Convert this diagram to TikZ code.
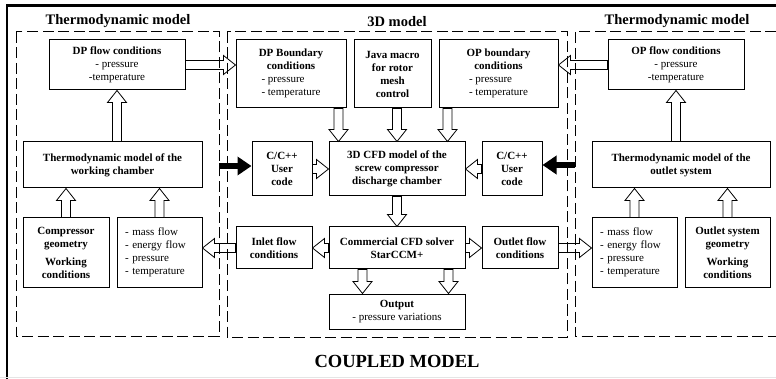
\documentclass[tikz,border=0pt]{standalone}
\usepackage{fontspec}
\setmainfont{Liberation Serif}
\usetikzlibrary{calc,arrows.meta}
\newcommand*{\boxfont}{\fontsize{11}{13}\selectfont}
\tikzset{
  box/.style 2 args={draw, line width=1pt, align=center, inner sep=2pt,
    minimum width=#1, minimum height=#2, font=\boxfont\bfseries},
  listbox/.style={draw, line width=1pt, align=left, inner xsep=8pt,
    text width=69pt, minimum height=69pt, font=\boxfont},
  flow/.style={draw, fill=white, line width=0.8pt},
  push/.style={line width=6pt, -{Triangle[length=14pt,width=18pt]}},
  modelframe/.style={line width=1pt, dash pattern=on 11pt off 4.5pt},
  heading/.style={font=\fontsize{14.5}{16}\selectfont\bfseries}
}
\newcommand*{\flowarrow}[2]{%
  \coordinate (fa1) at (#1);
  \coordinate (fa2) at (#2);
  \coordinate (fah) at ($(fa2)!12pt!(fa1)$);
  \draw[flow] ($(fa1)!4.5pt!90:(fa2)$) -- ($(fah)!4.5pt!90:(fa2)$)
    -- ($(fah)!9.5pt!90:(fa2)$) -- (fa2) -- ($(fah)!9.5pt!-90:(fa2)$)
    -- ($(fah)!4.5pt!-90:(fa2)$) -- ($(fa1)!4.5pt!-90:(fa2)$) -- cycle}

\begin{document}
\begin{tikzpicture}[x=1pt,y=-1pt]
\useasboundingbox (0,0) rectangle (776,379);
% outer frame
\draw[line width=2.5pt] (7,379) -- (7,5.5) -- (776,5.5);
\draw[black!10, line width=1pt] (0,377.5) -- (776,377.5);
% titles
\node[heading] (tdleft) at (118,21) {Thermodynamic model};
\node[heading] (tdmid) at (397,22) {3D model};
\node[heading] (tdright) at (677,21) {Thermodynamic model};
\node[font=\fontsize{18.5}{20}\selectfont\bfseries] (coupled) at (397,361) {COUPLED MODEL};
% thermodynamic model, discharge side
\node[box={136pt}{50pt}] (dpflow) at (117,65)
  {DP flow conditions\\\mdseries - pressure\\\mdseries -temperature};
\node[box={179pt}{46pt}] (tmwc) at (112.5,165)
  {Thermodynamic model of the\\working chamber};
\node[box={86pt}{69pt}] (compgeo) at (66,252.5)
  {Compressor\\geometry\\[5pt]Working\\conditions};
\node[listbox] (massl) at (159.5,252.5)
  {- mass flow\\- energy flow\\- pressure\\- temperature};
% 3D model
\node[box={110pt}{68pt}] (dpbc) at (291,74)
  {DP Boundary\\conditions\\\mdseries\begin{tabular}[t]{@{}l@{}}- pressure\\- temperature\end{tabular}};
\node[box={77pt}{68pt}] (java) at (392.5,74)
  {Java macro\\for rotor\\mesh\\control};
\node[box={119pt}{68pt}] (opbc) at (498.5,74)
  {OP boundary\\conditions\\\mdseries\begin{tabular}[t]{@{}l@{}}- pressure\\- temperature\end{tabular}};
\node[box={60pt}{54pt}] (ccl) at (282,169) {C/C++\\User\\code};
\node[box={136pt}{54pt}] (cfd3d) at (397,169)
  {3D CFD model of the\\screw compressor\\discharge chamber};
\node[box={60pt}{54pt}] (ccr) at (512,169) {C/C++\\User\\code};
\node[box={76pt}{42pt}] (inlet) at (274,248) {Inlet flow\\conditions};
\node[box={136pt}{42pt}] (solver) at (397,248)
  {Commercial CFD solver\\StarCCM+};
\node[box={76pt}{42pt}] (outlet) at (520,248) {Outlet flow\\conditions};
\node[box={136pt}{35pt}] (output) at (397,311.5)
  {Output\\\mdseries - pressure variations};
% thermodynamic model, outlet side
\node[box={136pt}{50pt}] (opflow) at (676,65)
  {OP flow conditions\\\mdseries - pressure\\\mdseries -temperature};
\node[box={178pt}{46pt}] (tmout) at (681,165)
  {Thermodynamic model of the\\outlet system};
\node[listbox] (massr) at (634.5,252.5)
  {- mass flow\\- energy flow\\- pressure\\- temperature};
\node[box={85pt}{69pt}] (outgeo) at (727.5,252.5)
  {Outlet system\\geometry\\[5pt]Working\\conditions};
% data flow
\flowarrow{dpflow.east}{dpflow.east -| dpbc.west};
\flowarrow{dpflow.south |- tmwc.north}{dpflow.south};
\flowarrow{compgeo.north}{compgeo.north |- tmwc.south};
\flowarrow{massl.north}{massl.north |- tmwc.south};
\flowarrow{inlet.west}{inlet.west -| massl.east};
\flowarrow{[xshift=-8pt]dpbc.south east}{[xshift=-8pt]dpbc.south east |- cfd3d.north};
\flowarrow{cfd3d.north |- java.south}{cfd3d.north};
\flowarrow{[xshift=9pt]opbc.south west}{[xshift=9pt]opbc.south west |- cfd3d.north};
\flowarrow{ccl.east}{cfd3d.west};
\flowarrow{ccr.west}{cfd3d.east};
\flowarrow{cfd3d.south}{solver.north};
\flowarrow{solver.west}{inlet.east};
\flowarrow{solver.east}{outlet.west};
\flowarrow{[xshift=34pt]solver.south west}{[xshift=34pt]solver.south west |- output.north};
\flowarrow{[xshift=-17pt]solver.south east}{[xshift=-17pt]solver.south east |- output.north};
\flowarrow{opflow.west}{opflow.west -| opbc.east};
\flowarrow{opflow.south |- tmout.north}{opflow.south};
\flowarrow{massr.north}{massr.north |- tmout.south};
\flowarrow{outgeo.north}{outgeo.north |- tmout.south};
\flowarrow{outlet.east}{outlet.east -| massr.west};
% model frames
\draw[modelframe] (16,32) rectangle (219,336);
\draw[modelframe] (227,32) rectangle (567,337);
\draw[modelframe] (776,32) -- (575,32) -- (575,336) -- (776,336);
\coordinate (lfe) at (219,166);
\coordinate (rfe) at (575,165);
\draw[push] (lfe) -- (lfe -| ccl.west);
\draw[push] (rfe) -- (rfe -| ccr.east);
\end{tikzpicture}
\end{document}
